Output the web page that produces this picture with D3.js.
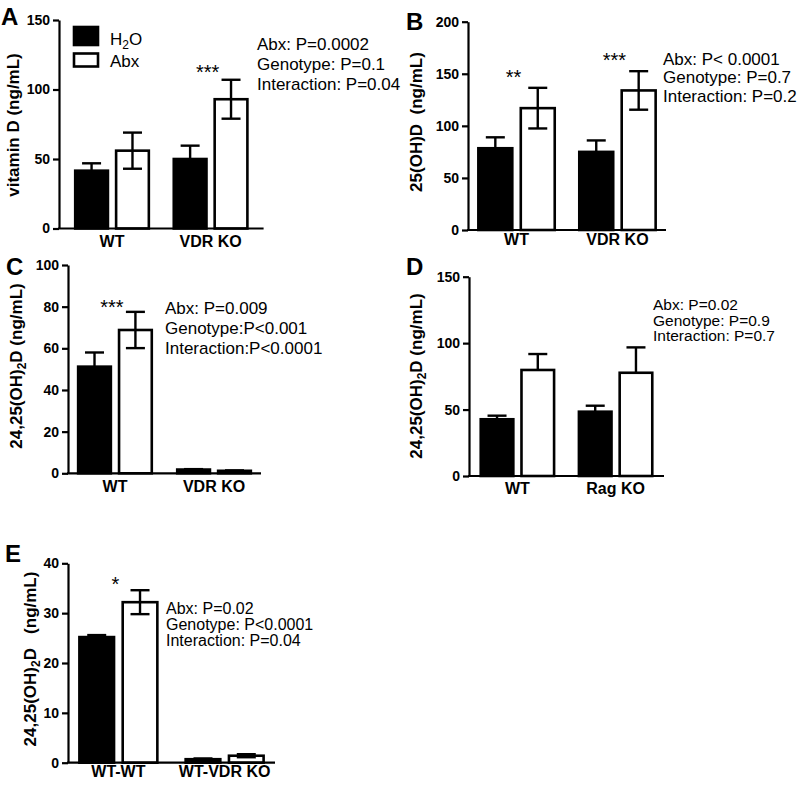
<!DOCTYPE html>
<html>
<head>
<meta charset="utf-8">
<script src="https://cdn.jsdelivr.net/npm/d3@7"></script>
<style>
  html, body { margin: 0; padding: 0; background: #fff; }
  svg { display: block; font-family: "Liberation Sans", Arial, Helvetica, sans-serif; }
</style>
</head>
<body>
<svg id="chart" width="800" height="785"></svg>
<script>
// ---------------- DATA ----------------
const series = ["H2O", "Abx"];

// Panel A: vitamin D
const groupsA = ["WT", "VDR KO"];
const h2oA = [41.6, 50];
const h2oErrA = [5.3, 9.6];
const abxA = [56, 93];
const abxErrA = [13, 14];
const ticksA = [0, 50, 100, 150];
const statsA = ["Abx: P=0.0002", "Genotype: P=0.1", "Interaction: P=0.04"];
const sigA = ["", "***"];
const sigValA = [0, 107.5];

// Panel B: 25(OH)D
const groupsB = ["WT", "VDR KO"];
const h2oB = [78.5, 75];
const h2oErrB = [10.5, 11];
const abxB = [117, 134];
const abxErrB = [19.5, 18.5];
const ticksB = [0, 50, 100, 150, 200];
const statsB = ["Abx: P< 0.0001", "Genotype: P=0.7", "Interaction: P=0.2"];
const sigB = ["**", "***"];
const sigValB = [140, 156.5];

// Panel C: 24,25(OH)2D
const groupsC = ["WT", "VDR KO"];
const h2oC = [51.2, 1.8];
const h2oErrC = [6.8, 0.2];
const abxC = [68.8, 1.2];
const abxErrC = [8.7, 0.2];
const ticksC = [0, 20, 40, 60, 80, 100];
const statsC = ["Abx: P=0.009", "Genotype:P<0.001", "Interaction:P<0.0001"];
const sigC = ["***", ""];
const sigValC = [76.5, 0];

// Panel D: 24,25(OH)2D, Rag KO
const groupsD = ["WT", "Rag KO"];
const h2oD = [42.7, 48.4];
const h2oErrD = [2.7, 4.5];
const abxD = [79.8, 77.7];
const abxErrD = [12, 19.1];
const ticksD = [0, 50, 100, 150];
const statsD = ["Abx: P=0.02", "Genotype: P=0.9", "Interaction: P=0.7"];
const sigD = ["", ""];
const sigValD = [0, 0];

// Panel E: 24,25(OH)2D, chimeras
const groupsE = ["WT-WT", "WT-VDR KO"];
const h2oE = [25.2, 0.7];
const h2oErrE = [0.4, 0.15];
const abxE = [32.2, 1.4];
const abxErrE = [2.4, 0.3];
const ticksE = [0, 10, 20, 30, 40];
const statsE = ["Abx: P=0.02", "Genotype: P<0.0001", "Interaction: P=0.04"];
const sigE = ["*", ""];
const sigValE = [34.4, 0];

// ---------------- LAYOUT ----------------
const panels = [
  { letter: "A", letterX: 1, letterY: 25,
    groups: groupsA, vals: [h2oA, abxA], errs: [h2oErrA, abxErrA], ticks: ticksA, yMax: 150,
    xRange: [59, 263.6], pi: 0.228, po: 0.152, yRange: [228.5, 20],
    title: ["vitamin D (ng/mL)"], titleOff: 40, titleCY: 125,
    catPad: 7, stats: statsA, statsX: 257, statsY: 50, statsDY: 20, statsFS: 17,
    sig: sigA, sigVal: sigValA, upperOnly: false },
  { letter: "B", letterX: 406, letterY: 30,
    groups: groupsB, vals: [h2oB, abxB], errs: [h2oErrB, abxErrB], ticks: ticksB, yMax: 200,
    xRange: [468, 666], pi: 0.218, po: 0.09, yRange: [230, 21.7],
    title: ["25(OH)D  (ng/mL)"], titleOff: 46.5, titleCY: 122,
    catPad: 4, stats: statsB, statsX: 663, statsY: 65, statsDY: 18.3, statsFS: 17,
    sig: sigB, sigVal: sigValB, upperOnly: false },
  { letter: "C", letterX: 6, letterY: 275,
    groups: groupsC, vals: [h2oC, abxC], errs: [h2oErrC, abxErrC], ticks: ticksC, yMax: 100,
    xRange: [68, 261], pi: 0.232, po: 0.09, yRange: [473.3, 265],
    title: ["24,25(OH)", "2", "D (ng/mL)"], titleOff: 46.5, titleCY: 366,
    catPad: 7, stats: statsC, statsX: 165, statsY: 314, statsDY: 20, statsFS: 17,
    sig: sigC, sigVal: sigValC, upperOnly: false },
  { letter: "D", letterX: 406, letterY: 275,
    groups: groupsD, vals: [h2oD, abxD], errs: [h2oErrD, abxErrD], ticks: ticksD, yMax: 150,
    xRange: [469, 664], pi: 0.228, po: 0.107, yRange: [476, 276.7],
    title: ["24,25(OH)", "2", "D (ng/mL)"], titleOff: 47.5, titleCY: 376,
    catPad: 7, stats: statsD, statsX: 653, statsY: 310, statsDY: 15.5, statsFS: 15.5,
    sig: sigD, sigVal: sigValD, upperOnly: true },
  { letter: "E", letterX: 5, letterY: 562,
    groups: groupsE, vals: [h2oE, abxE], errs: [h2oErrE, abxErrE], ticks: ticksE, yMax: 40,
    xRange: [68, 275], pi: 0.242, po: 0.095, yRange: [762.7, 563.3],
    title: ["24,25(OH)", "2", "D   (ng/mL)"], titleOff: 32, titleCY: 659,
    catPad: 3, stats: statsE, statsX: 166, statsY: 614, statsDY: 16, statsFS: 16,
    sig: sigE, sigVal: sigValE, upperOnly: false }
];

const svg = d3.select("#chart");
const FONT = '"Liberation Sans", Arial, Helvetica, sans-serif';

function drawPanel(p) {
  const g = svg.append("g");
  const x = d3.scaleBand().domain(p.groups).range(p.xRange)
    .paddingInner(p.pi).paddingOuter(p.po);
  const xs = d3.scaleBand().domain(series).range([0, x.bandwidth()])
    .paddingInner(0.2).paddingOuter(0.03);
  const y = d3.scaleLinear().domain([0, p.yMax]).range(p.yRange);

  const rows = [];
  p.groups.forEach((gr, i) => {
    series.forEach((s, j) => {
      rows.push({ group: gr, s: s, v: p.vals[j][i], e: p.errs[j][i] });
    });
  });

  // bars
  g.selectAll("rect.bar").data(rows).enter().append("rect")
    .attr("class", "bar")
    .attr("x", d => x(d.group) + xs(d.s))
    .attr("y", d => y(d.v))
    .attr("width", xs.bandwidth())
    .attr("height", d => y(0) - y(d.v))
    .attr("fill", d => d.s === "H2O" ? "#000" : "#fff")
    .attr("stroke", "#000")
    .attr("stroke-width", 2.6);

  // error bars
  const capW = 19;
  const eb = g.selectAll("g.err").data(rows).enter().append("g").attr("class", "err")
    .attr("stroke", "#000").attr("stroke-width", 2.4);
  const cx = d => x(d.group) + xs(d.s) + xs.bandwidth() / 2;
  eb.append("line")
    .attr("x1", cx).attr("x2", cx)
    .attr("y1", d => y(d.v + d.e))
    .attr("y2", d => p.upperOnly ? y(d.v) : y(d.v - d.e));
  eb.append("line")
    .attr("x1", d => cx(d) - capW / 2).attr("x2", d => cx(d) + capW / 2)
    .attr("y1", d => y(d.v + d.e)).attr("y2", d => y(d.v + d.e));
  if (!p.upperOnly) {
    eb.append("line")
      .attr("x1", d => cx(d) - capW / 2).attr("x2", d => cx(d) + capW / 2)
      .attr("y1", d => y(d.v - d.e)).attr("y2", d => y(d.v - d.e));
  }

  // y axis
  const yAxis = g.append("g")
    .attr("transform", `translate(${p.xRange[0]},0)`)
    .call(d3.axisLeft(y).tickValues(p.ticks).tickSize(6).tickSizeOuter(0).tickPadding(3));
  yAxis.select(".domain").attr("stroke-width", 2.2);
  yAxis.selectAll(".tick line").attr("stroke-width", 2.2);
  yAxis.selectAll(".tick text")
    .attr("font-family", FONT).attr("font-size", 14).attr("font-weight", "bold").attr("fill", "#000");

  // x axis
  const xAxis = g.append("g")
    .attr("transform", `translate(0,${y(0)})`)
    .call(d3.axisBottom(x).tickSize(0).tickSizeOuter(0).tickPadding(p.catPad));
  xAxis.select(".domain").attr("stroke-width", 2.2)
    .attr("d", `M${p.xRange[0] - 1},0H${p.xRange[1]}`);
  xAxis.selectAll(".tick text")
    .attr("font-family", FONT).attr("font-size", 16).attr("font-weight", "bold").attr("fill", "#000");

  // y title
  const t = g.append("text")
    .attr("transform", `translate(${p.xRange[0] - p.titleOff},${p.titleCY}) rotate(-90)`)
    .attr("text-anchor", "middle")
    .attr("font-family", FONT).attr("font-size", 17).attr("font-weight", "bold")
    .style("white-space", "pre");
  if (p.title.length === 1) {
    t.text(p.title[0]);
  } else {
    t.append("tspan").text(p.title[0]);
    t.append("tspan").attr("dy", 4).attr("font-size", 12).text(p.title[1]);
    t.append("tspan").attr("dy", -4).text(p.title[2]);
  }

  // panel letter
  g.append("text").attr("x", p.letterX).attr("y", p.letterY)
    .attr("font-family", FONT).attr("font-size", 24).attr("font-weight", "bold")
    .text(p.letter);

  // stats text
  g.selectAll("text.stat").data(p.stats).enter().append("text")
    .attr("class", "stat")
    .attr("x", p.statsX)
    .attr("y", (d, i) => p.statsY + i * p.statsDY)
    .attr("font-family", FONT).attr("font-size", p.statsFS)
    .text(d => d);

  // significance asterisks
  const sigRows = p.groups.map((gr, i) => ({ group: gr, text: p.sig[i], v: p.sigVal[i] }))
    .filter(d => d.text);
  g.selectAll("text.sig").data(sigRows).enter().append("text")
    .attr("class", "sig")
    .attr("x", d => x(d.group) + x.bandwidth() / 2 - 3)
    .attr("y", d => y(d.v))
    .attr("text-anchor", "middle")
    .attr("font-family", FONT).attr("font-size", 20)
    .text(d => d.text);

  return { x, y, g };
}

panels.forEach(drawPanel);

// legend (panel A)
const legendItems = series;
const legend = svg.append("g");
legend.selectAll("rect").data(legendItems).enter().append("rect")
  .attr("x", 74)
  .attr("y", (d, i) => i === 0 ? 27 : 53.5)
  .attr("width", 24)
  .attr("height", (d, i) => i === 0 ? 18 : 13)
  .attr("fill", d => d === "H2O" ? "#000" : "#fff")
  .attr("stroke", "#000").attr("stroke-width", 2.6);
const lt1 = legend.append("text").attr("x", 110).attr("y", 45)
  .attr("font-family", FONT).attr("font-size", 17);
lt1.append("tspan").text("H");
lt1.append("tspan").attr("dy", 4).attr("font-size", 12).text("2");
lt1.append("tspan").attr("dy", -4).text("O");
legend.append("text").attr("x", 110).attr("y", 67)
  .attr("font-family", FONT).attr("font-size", 17).text("Abx");
</script>
</body>
</html>
